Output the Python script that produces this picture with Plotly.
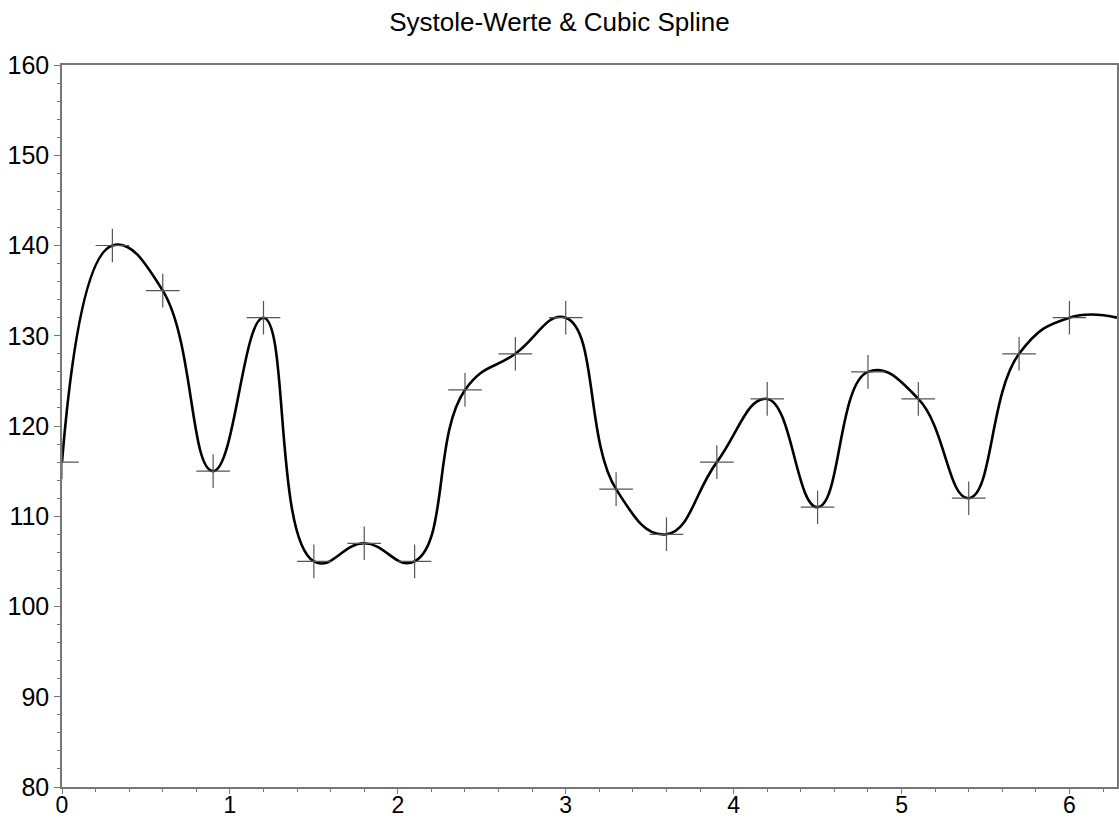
import math
import plotly.graph_objects as go

time_x = [0.0, 0.3, 0.6, 0.9, 1.2, 1.5, 1.8, 2.1, 2.4, 2.7, 3.0,
          3.3, 3.6, 3.9, 4.2, 4.5, 4.8, 5.1, 5.4, 5.7, 6.0]
systole = [116, 140, 135, 115, 132, 105, 107, 105, 124, 128, 132,
           113, 108, 116, 123, 111, 126, 123, 112, 128, 132]

# spline end value at the right border (x = 2*pi)
end_x = 2 * math.pi
end_y = 132

x_ticks = [0, 1, 2, 3, 4, 5, 6]
y_ticks = [80, 90, 100, 110, 120, 130, 140, 150, 160]

FONT = "Liberation Sans, Arial, sans-serif"

fig = go.Figure()

fig.add_trace(go.Scatter(
    x=time_x + [end_x], y=systole + [end_y],
    mode="lines",
    line=dict(color="black", width=2.6, shape="spline", smoothing=1.3),
    showlegend=False, hoverinfo="skip",
))

fig.add_trace(go.Scatter(
    x=time_x, y=systole,
    mode="markers",
    marker=dict(symbol="cross-thin-open", size=24, color="#555555",
                line=dict(color="#555555", width=1.2)),
    showlegend=False,
))

axis_common = dict(
    showgrid=False, zeroline=False, automargin=False,
    showline=True, linecolor="#777777", linewidth=1.5, mirror=True,
    ticks="outside", tickwidth=1, tickcolor="#777777",
)

fig.update_xaxes(
    range=[0, 2 * math.pi], tickvals=x_ticks, ticktext=[str(v) for v in x_ticks],
    ticklen=5, ticklabelstandoff=-8,
    tickfont=dict(family=FONT, size=23, color="black"),
    minor=dict(dtick=0.2, ticks="outside", ticklen=3, tickcolor="#777777"),
    **axis_common,
)
fig.update_yaxes(
    range=[80, 160], tickvals=y_ticks, ticktext=[str(v) for v in y_ticks],
    ticklen=6,
    tickfont=dict(family=FONT, size=25, color="black"),
    minor=dict(dtick=2, ticks="outside", ticklen=3, tickcolor="#777777"),
    **axis_common,
)

fig.update_layout(
    width=1119, height=821,
    margin=dict(l=62, r=2, t=65, b=34),
    paper_bgcolor="white", plot_bgcolor="white",
    title=dict(text="Systole-Werte & Cubic Spline",
               x=0.5, xref="container", xanchor="center",
               y=1 - 22 / 821, yref="container", yanchor="middle",
               font=dict(family=FONT, size=26, color="black")),
)

fig.write_html(
    "out.html",
    config={"displayModeBar": False},
    post_script="document.body.style.margin='0';document.body.style.padding='0';"
                "document.body.style.overflow='hidden';",
)
